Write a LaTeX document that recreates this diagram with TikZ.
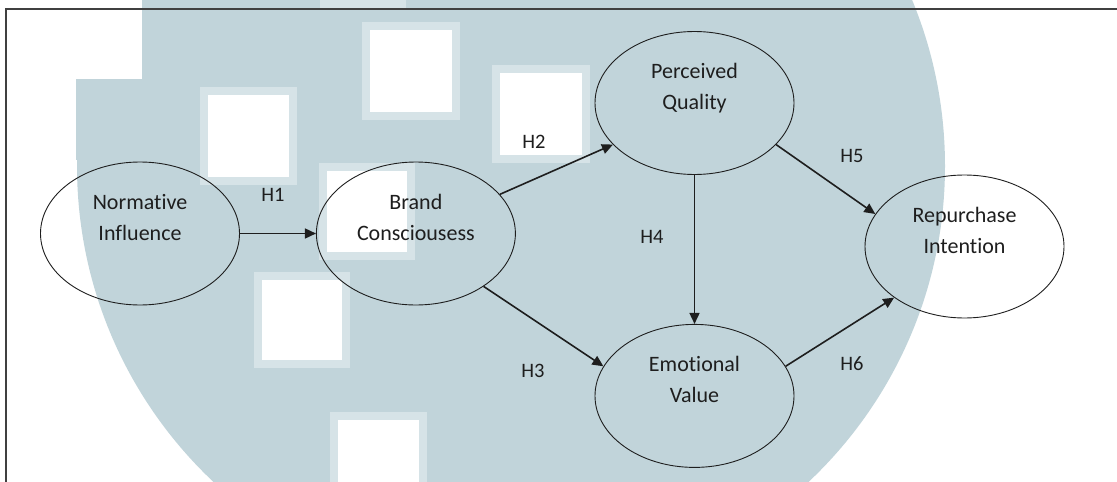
\documentclass[tikz,border=0pt]{standalone}
\usepackage{fontspec}
\setmainfont{Carlito}[Ligatures=NoCommon]
\usetikzlibrary{shapes.geometric}
\usetikzlibrary{arrows.meta}
\usetikzlibrary{positioning}

\definecolor{wmblue}{RGB}{193,212,218}
\definecolor{wmedge}{RGB}{214,227,231}
\definecolor{inkgray}{RGB}{30,30,30}

\begin{document}
\begin{tikzpicture}[x=1pt, y=-1pt,
    construct/.style={ellipse, align=center, draw=inkgray, line width=0.9pt, minimum width=199pt, minimum height=143pt, inner sep=0pt, text=inkgray, font=\fontsize{22}{31}\selectfont, text depth=32.5pt},
    hyplabel/.style={text=inkgray, inner sep=0pt, font=\fontsize{20.5}{24}\selectfont},
    hypline/.style={-{Triangle[length=11pt,width=10pt]}, line width=1.6pt, draw=inkgray},
    ]

    \useasboundingbox (0,0) rectangle (1117,482);

    %Watermark
    \begin{scope}
    \clip (0,0) rectangle (1117,482);
    \fill[wmblue] (511,166) circle [radius=434pt];
    \fill[wmblue] (76,79) rectangle (142,160);
    \fill[white] (0,0) rectangle (142,79);
    \fill[wmedge] (320,0) rectangle (406,9);
    \fill[wmedge] (200,87) rectangle +(97,98);   \fill[white] (208,95) rectangle +(81,82);
    \fill[wmedge] (362,22) rectangle +(98,98);   \fill[white] (370,30) rectangle +(82,82);
    \fill[wmedge] (492,65) rectangle +(98,98);   \fill[white] (500,73) rectangle +(82,82);
    \fill[wmedge] (319,163) rectangle +(96,97);  \fill[white] (327,171) rectangle +(80,81);
    \fill[wmedge] (254,272) rectangle +(96,96);  \fill[white] (262,280) rectangle +(80,80);
    \fill[wmedge] (330,412) rectangle +(97,80);  \fill[white] (338,420) rectangle +(81,70);
    \end{scope}

    %Frame
    \draw[line width=2pt, black!75] (1117,9) -- (6,9) -- (6,482);

    %Nodes
    \node[construct] (normative)  at (140,233.5)            {Normative\\Influence};
    \node[construct] (brand)      [right=76pt of normative] {Brand\\Consciousess};
    \node[construct] (quality)    at (694.5,103)            {Perceived\\Quality};
    \node[construct] (emotional)  [below=149pt of quality]  {Emotional\\Value};
    \node[construct] (repurchase) at (964.5,246.5)          {Repurchase\\Intention};

    %Labels
    \node[hyplabel] (h1) at (273,195) {H1};
    \node[hyplabel] (h2) at (534,142) {H2};
    \node[hyplabel] (h3) at (533,371) {H3};
    \node[hyplabel] (h4) at (652,237) {H4};
    \node[hyplabel] (h5) at (852,156) {H5};
    \node[hyplabel] (h6) at (852,364) {H6};

    %Lines
    \draw[hypline] (normative.east) -- (brand.west);
    \draw[hypline] (brand.25) -- (quality.207);
    \draw[hypline] (brand.-38) -- (emotional.162);
    \draw[hypline] (quality.south) -- (emotional.north);
    \draw[hypline] (quality.-27) -- (repurchase.160);
    \draw[hypline] (emotional.18) -- (repurchase.216);

\end{tikzpicture}
\end{document}
